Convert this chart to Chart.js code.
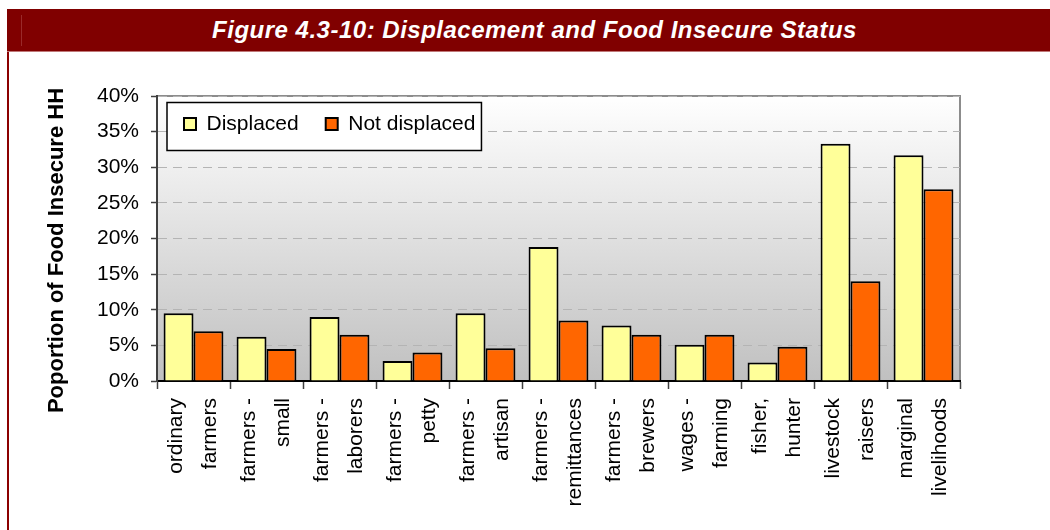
<!DOCTYPE html>
<html>
<head>
<meta charset="utf-8">
<script src="https://cdn.jsdelivr.net/npm/chart.js@4.4.1/dist/chart.umd.min.js"></script>
<style>
  body { margin: 0; background: #fff; width: 1050px; height: 530px; overflow: hidden; position: relative; }
  #banner {
    position: absolute; left: 7px; top: 9px; width: 1043px; height: 43px;
    background: #800000; border-bottom: 1px solid #c07878; box-sizing: border-box;
    color: #fff; font: italic bold 24px "Liberation Sans", Arial, sans-serif;
    letter-spacing: 0.5px; line-height: 42px; text-align: center; padding-left: 12px;
    z-index: 2;
  }
  #banner-tick { position: absolute; left: 21px; top: 15px; width: 1px; height: 31px; background: #9a2a2a; z-index: 3; }
  #frame-left { position: absolute; left: 7px; top: 52px; width: 2px; height: 478px; background: #8b0000; z-index: 2; }
  #wrap { position: absolute; left: 0; top: 0; width: 1050px; height: 530px; }
</style>
</head>
<body>
<div id="banner">Figure 4.3-10: Displacement and Food Insecure Status</div>
<div id="banner-tick"></div>
<div id="frame-left"></div>
<div id="wrap"><canvas id="chart" width="1050" height="530"></canvas></div>
<script>
var categories = [
  ['ordinary', 'farmers'],
  ['farmers -', 'small'],
  ['farmers -', 'laborers'],
  ['farmers -', 'petty'],
  ['farmers -', 'artisan'],
  ['farmers -', 'remittances'],
  ['farmers -', 'brewers'],
  ['wages -', 'farming'],
  ['fisher,', 'hunter'],
  ['livestock', 'raisers'],
  ['marginal', 'livelihoods']
];
var displaced    = [9.5, 6.2, 9.0, 2.8, 9.5, 18.8, 7.8, 5.1, 2.6, 33.3, 31.7];
var notDisplaced = [7.0, 4.5, 6.5, 4.0, 4.6, 8.5, 6.5, 6.5, 4.8, 14.0, 26.9];
var seriesNames  = ['Displaced', 'Not displaced'];
var yAxisTitle   = 'Poportion of Food Insecure HH';

var fontFamily = '"Liberation Sans", Arial, sans-serif';

// grey gradient behind the bars, plus the thin frame on top and right
var plotBackground = {
  id: 'plotBackground',
  beforeDraw: function(chart) {
    var a = chart.chartArea, ctx = chart.ctx;
    var g = ctx.createLinearGradient(0, a.top, 0, a.bottom);
    g.addColorStop(0, '#ffffff');
    g.addColorStop(1, '#c0c0c0');
    ctx.save();
    ctx.fillStyle = g;
    ctx.fillRect(a.left, a.top, a.right - a.left, a.bottom - a.top);
    ctx.strokeStyle = '#8c8c8c';
    ctx.lineWidth = 2;
    ctx.beginPath();
    ctx.moveTo(a.left, a.top);
    ctx.lineTo(a.right, a.top);
    ctx.lineTo(a.right, a.bottom);
    ctx.stroke();
    ctx.restore();
  }
};

// legend sits inside the plot, in a white box with a black border
var legendInPlot = {
  id: 'legendInPlot',
  afterLayout: function(chart) {
    var lg = chart.legend;
    var h = lg.bottom - lg.top;
    lg.top = chart.chartArea.top - 9.5;
    lg.bottom = lg.top + h;
  },
  afterDatasetsDraw: function(chart) {
    var lg = chart.legend, hb = lg.legendHitBoxes, ctx = chart.ctx;
    if (!hb || !hb.length) return;
    var first = hb[0], last = hb[hb.length - 1];
    var x0 = first.left - 17, x1 = last.left + last.width + 6;
    var y0 = first.top - 11, y1 = first.top + first.height + 16;
    ctx.save();
    ctx.fillStyle = '#ffffff';
    ctx.fillRect(x0, y0, x1 - x0, y1 - y0);
    ctx.strokeStyle = '#000';
    ctx.lineWidth = 1.5;
    ctx.strokeRect(x0, y0, x1 - x0, y1 - y0);
    ctx.restore();
    lg.draw();
  }
};

// vertical axis title
var yTitle = {
  id: 'yTitle',
  afterDraw: function(chart) {
    var ctx = chart.ctx;
    ctx.save();
    ctx.translate(57, 250.5);
    ctx.rotate(-Math.PI / 2);
    ctx.font = 'bold 22px ' + fontFamily;
    ctx.fillStyle = '#000';
    ctx.textAlign = 'center';
    ctx.textBaseline = 'middle';
    ctx.fillText(yAxisTitle, 0, 0);
    ctx.restore();
  }
};

var ctx = document.getElementById('chart').getContext('2d');

var chart = new Chart(ctx, {
  type: 'bar',
  data: {
    labels: categories,
    datasets: [
      {
        label: seriesNames[0],
        data: displaced,
        backgroundColor: '#ffff99',
        borderColor: '#000000',
        borderWidth: 2
      },
      {
        label: seriesNames[1],
        data: notDisplaced,
        backgroundColor: '#ff6600',
        borderColor: '#000000',
        borderWidth: 2
      }
    ]
  },
  options: {
    responsive: false,
    animation: false,
    devicePixelRatio: 1,
    categoryPercentage: 0.82,
    barPercentage: 1.0,
    layout: { padding: { top: 38, right: 90, bottom: 0, left: 0 } },
    plugins: {
      legend: {
        position: 'top',
        align: 'start',
        fullSize: false,
        labels: {
          boxWidth: 12,
          boxHeight: 12,
          padding: 27,
          color: '#000',
          font: { family: fontFamily, size: 21 }
        }
      },
      tooltip: { enabled: false }
    },
    scales: {
      x: {
        afterFit: function(scale) { scale.height = 149; },
        grid: {
          drawOnChartArea: false,
          offset: true,
          tickLength: 8,
          tickColor: '#404040',
          tickWidth: 1.5
        },
        border: { color: '#000', width: 2 },
        ticks: {
          autoSkip: false,
          maxRotation: 90,
          minRotation: 90,
          padding: 9,
          labelOffset: -17,
          color: '#000',
          font: { family: fontFamily, size: 21, lineHeight: 1.62 }
        }
      },
      y: {
        min: 0,
        max: 40,
        afterFit: function(scale) { scale.width = 157; },
        grid: {
          color: '#b4b4b4',
          lineWidth: 1,
          tickLength: 6,
          tickColor: '#404040',
          tickWidth: 1.5,
          tickBorderDash: []
        },
        border: { color: '#404040', width: 2, dash: [9, 6] },
        ticks: {
          stepSize: 5,
          padding: 12,
          color: '#000',
          font: { family: fontFamily, size: 21 },
          callback: function(v) { return v + '%'; }
        }
      }
    }
  },
  plugins: [plotBackground, legendInPlot, yTitle]
});
</script>
</body>
</html>
